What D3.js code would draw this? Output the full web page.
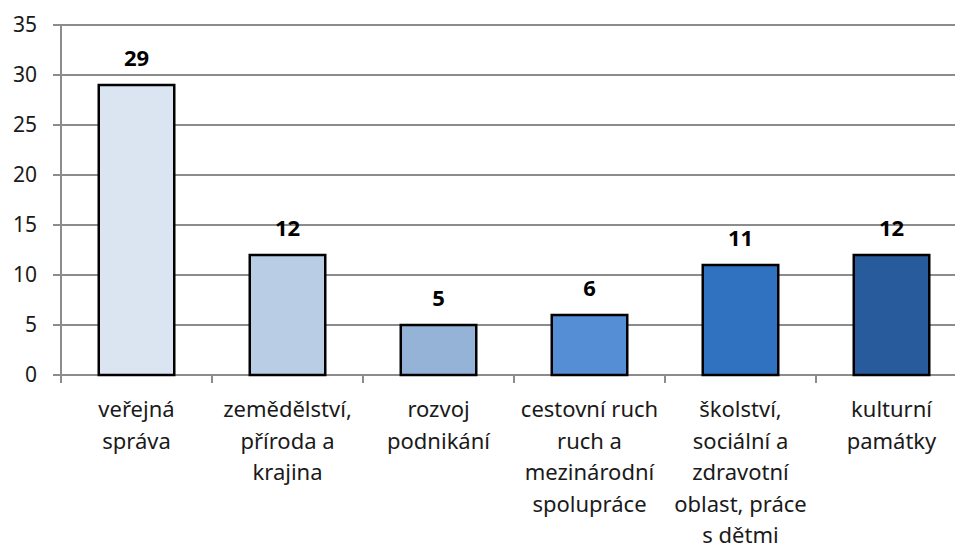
<!DOCTYPE html>
<html>
<head>
<meta charset="utf-8">
<script src="https://cdn.jsdelivr.net/npm/d3@7"></script>
<style>
  body { margin: 0; background: #fff; }
  svg text { font-family: "Noto Sans", "Open Sans", sans-serif; }
</style>
</head>
<body>
<div id="chart"></div>
<script>
// chart data
var categories = [
    ["veřejná", "správa"],
    ["zemědělství,", "příroda a", "krajina"],
    ["rozvoj", "podnikání"],
    ["cestovní ruch", "ruch a", "mezinárodní", "spolupráce"],
    ["školství,", "sociální a", "zdravotní", "oblast, práce", "s dětmi"],
    ["kulturní", "památky"]
];
var values = [29, 12, 5, 6, 11, 12];
var colors = ["#dbe5f1", "#b9cde5", "#95b3d7", "#558ed5", "#3072c0", "#285b9b"];
var yTicks = [0, 5, 10, 15, 20, 25, 30, 35];

var width = 955, height = 549;
var plotLeft = 61, plotTop = 25, plotBottom = 375;
var band = 151;

var svg = d3.select("#chart")
    .append("svg")
    .attr("width", width)
    .attr("height", height);

var x = d3.scaleBand()
    .domain(d3.range(categories.length))
    .range([plotLeft, plotLeft + band * categories.length])
    .paddingInner(0.5)
    .paddingOuter(0.25);

var y = d3.scaleLinear()
    .domain([0, 35])
    .range([plotBottom, plotTop]);

// gridlines
svg.selectAll("line.grid")
    .data(yTicks)
    .enter()
    .append("line")
    .attr("class", "grid")
    .attr("x1", plotLeft - 8)
    .attr("x2", width)
    .attr("y1", function (d) { return y(d); })
    .attr("y2", function (d) { return y(d); })
    .attr("stroke", "#8c8c8c")
    .attr("stroke-width", 2);

// y axis line
svg.append("line")
    .attr("x1", plotLeft).attr("x2", plotLeft)
    .attr("y1", plotTop).attr("y2", plotBottom + 8)
    .attr("stroke", "#8c8c8c")
    .attr("stroke-width", 2);

// y tick labels
svg.selectAll("text.ytick")
    .data(yTicks)
    .enter()
    .append("text")
    .attr("class", "ytick")
    .attr("x", 37)
    .attr("y", function (d) { return y(d); })
    .attr("dy", "0.35em")
    .attr("text-anchor", "end")
    .attr("font-size", "21px")
    .attr("fill", "#1a1a1a")
    .text(function (d) { return d; });

// category ticks
svg.selectAll("line.xtick")
    .data(d3.range(categories.length + 1))
    .enter()
    .append("line")
    .attr("class", "xtick")
    .attr("x1", function (d) { return plotLeft + d * band; })
    .attr("x2", function (d) { return plotLeft + d * band; })
    .attr("y1", plotBottom)
    .attr("y2", plotBottom + 8)
    .attr("stroke", "#8c8c8c")
    .attr("stroke-width", 2);

// bars
svg.selectAll("rect.bar")
    .data(values)
    .enter()
    .append("rect")
    .attr("class", "bar")
    .attr("x", function (d, i) { return x(i); })
    .attr("y", function (d) { return y(d); })
    .attr("width", x.bandwidth())
    .attr("height", function (d) { return y(0) - y(d); })
    .attr("fill", function (d, i) { return colors[i]; })
    .attr("stroke", "#000")
    .attr("stroke-width", 2.5);

// value labels
svg.selectAll("text.val")
    .data(values)
    .enter()
    .append("text")
    .attr("class", "val")
    .attr("x", function (d, i) { return x(i) + x.bandwidth() / 2; })
    .attr("y", function (d) { return y(d) - 19; })
    .attr("text-anchor", "middle")
    .attr("font-size", "22px")
    .attr("font-weight", "bold")
    .attr("fill", "#000")
    .text(function (d) { return d; });

// category labels
var labels = svg.selectAll("text.cat")
    .data(categories)
    .enter()
    .append("text")
    .attr("class", "cat")
    .attr("text-anchor", "middle")
    .attr("font-size", "22px")
    .attr("fill", "#1a1a1a");

labels.selectAll("tspan")
    .data(function (d, i) { return d.map(function (t) { return { t: t, i: i }; }); })
    .enter()
    .append("tspan")
    .attr("x", function (d) { return x(d.i) + x.bandwidth() / 2; })
    .attr("y", function (d, j) { return 417 + j * 31.5; })
    .text(function (d) { return d.t; });
</script>
</body>
</html>
